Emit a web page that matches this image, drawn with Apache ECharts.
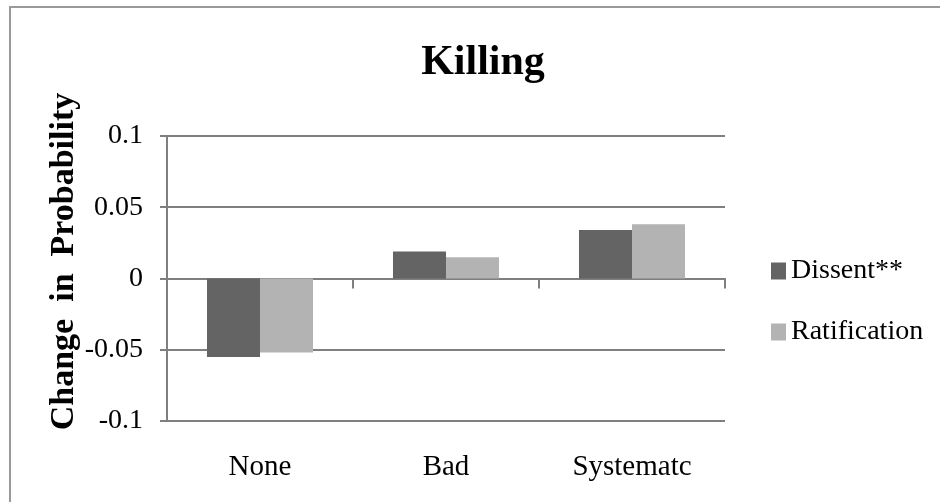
<!DOCTYPE html>
<html>
<head>
<meta charset="utf-8">
<script src="https://cdn.jsdelivr.net/npm/echarts@6/dist/echarts.min.js"></script>
<style>
html,body{margin:0;padding:0;background:#fff;}
#c{width:940px;height:502px;}
</style>
</head>
<body>
<div id="c"></div>
<script>
const categories = ['None', 'Bad', 'Systematc'];
const dissent = [-0.055, 0.019, 0.034];
const ratification = [-0.052, 0.015, 0.038];
const seriesNames = ['Dissent**', 'Ratification'];
const yTicks = [-0.1, -0.05, 0, 0.05, 0.1];

const chart = echarts.init(document.getElementById('c'), null, {renderer: 'canvas'});
const serif = '"Liberation Serif", "Times New Roman", serif';
const gray = '#7f7f7f';

chart.setOption({
  animation: false,
  backgroundColor: '#fff',
  title: {
    text: 'Killing',
    left: 478,
    textAlign: 'center',
    top: 37,
    textStyle: {fontFamily: serif, fontWeight: 'bold', fontSize: 42, color: '#000'}
  },
  graphic: [{
    type: 'rect',
    shape: {x: 10, y: 7, width: 1200, height: 1200},
    style: {fill: 'none', stroke: '#999', lineWidth: 2},
    silent: true, z: -1
  }],
  legend: {
    orient: 'vertical',
    left: 766,
    top: 252,
    itemWidth: 15,
    itemHeight: 17,
    itemGap: 33,
    icon: 'rect',
    textStyle: {fontFamily: serif, fontSize: 28, color: '#000'},
    data: seriesNames
  },
  grid: {left: 167, right: 215, top: 136, bottom: 81, containLabel: false},
  xAxis: [{
    type: 'category',
    data: categories,
    position: 'bottom',
    axisLine: {show: false, onZero: false},
    axisTick: {show: false},
    axisLabel: {fontFamily: serif, fontSize: 29, color: '#000', margin: 32},
    splitLine: {show: false}
  }, {
    type: 'category',
    data: categories,
    position: 'top',
    axisLine: {show: true, onZero: true, lineStyle: {color: gray, width: 2}},
    axisTick: {show: true, inside: true, length: 10, lineStyle: {color: gray, width: 2}},
    axisLabel: {show: false},
    splitLine: {show: false}
  }],
  yAxis: {
    type: 'value',
    min: yTicks[0],
    max: yTicks[yTicks.length - 1],
    interval: 0.05,
    name: 'Change  in  Probability',
    nameLocation: 'middle',
    nameGap: 86,
    nameMoveOverlap: false,
    nameRotate: 90,
    nameTextStyle: {fontFamily: serif, fontWeight: 'bold', fontSize: 34, color: '#000', padding: [0, 0, 0, 34]},
    axisLine: {show: true, lineStyle: {color: gray, width: 2}},
    axisTick: {show: true, length: 7, lineStyle: {color: gray, width: 2}},
    axisLabel: {
      fontFamily: serif, fontSize: 28, color: '#000', margin: 24,
      formatter: v => String(Math.round(v * 100) / 100)
    },
    splitLine: {show: true, lineStyle: {color: gray, width: 2}}
  },
  series: [{
    name: seriesNames[0],
    type: 'bar',
    data: dissent,
    xAxisIndex: 0,
    barGap: '0%',
    barCategoryGap: '43%',
    itemStyle: {color: '#646464'}
  }, {
    name: seriesNames[1],
    type: 'bar',
    data: ratification,
    xAxisIndex: 0,
    barGap: '0%',
    barCategoryGap: '43%',
    itemStyle: {color: '#b3b3b3'}
  }]
});
</script>
</body>
</html>
